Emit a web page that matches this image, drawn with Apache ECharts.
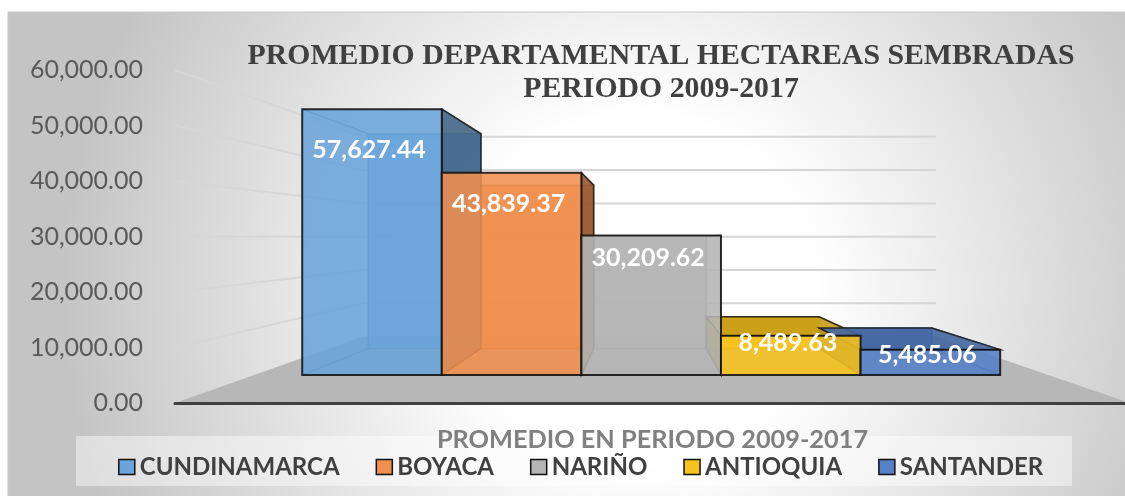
<!DOCTYPE html>
<html>
<head>
<meta charset="utf-8">
<script src="https://cdn.jsdelivr.net/npm/echarts@6/dist/echarts.min.js"></script>
<style>
  html, body { margin: 0; padding: 0; background: #fff; }
  #chart { width: 1125px; height: 496px; }
</style>
</head>
<body>
<div id="chart"></div>
<script>
// datos
const categories = ['PROMEDIO EN PERIODO 2009-2017'];
const departments = ['CUNDINAMARCA', 'BOYACA', 'NARIÑO', 'ANTIOQUIA', 'SANTANDER'];
const values = [57627.44, 43839.37, 30209.62, 8489.63, 5485.06];
const yTicks = [0, 10000, 20000, 30000, 40000, 50000, 60000];

const colors = ['#6aa4da', '#f08f4e', '#b5b5b5', '#f7c31c', '#5580c8'];

// vista 3D: punto de fuga y profundidad relativa al plano del eje
const VP = [645, 237];
const S_FRONT = 0.831, S_BACK = 0.671, S_WALL = 0.6;
const GAP = 0.0602, BAR = 0.1759;

const fmt = v => v.toLocaleString('en-US', { minimumFractionDigits: 2, maximumFractionDigits: 2 });
const proj = (x, y, s) => [VP[0] + (x - VP[0]) * s, VP[1] + (y - VP[1]) * s];

function shade (hex, f) {
  const n = parseInt(hex.slice(1), 16);
  const r = Math.round(((n >> 16) & 255) * f);
  const g = Math.round(((n >> 8) & 255) * f);
  const b = Math.round((n & 255) * f);
  return `rgb(${r},${g},${b})`;
}

// paredes y piso
function renderWall (params, api) {
  const v = api.value(1);
  const p = api.coord([0, v]);
  const bw = api.size([1, 0])[0];
  const xl = p[0] - bw / 2, xr = p[0] + bw / 2, y = p[1];
  if (v === 0) {
    return {
      type: 'polygon',
      shape: { points: [proj(xl, y, 1), proj(xr, y, 1), proj(xr, y, S_WALL), proj(xl, y, S_WALL)] },
      style: { fill: '#b7b7b7' }
    };
  }
  return {
    type: 'polyline',
    shape: { points: [proj(xl, y, 1), proj(xl, y, S_WALL), proj(xr, y, S_WALL)] },
    style: { stroke: '#d6d6d6', lineWidth: 2, fill: null }
  };
}

// barra 3D
function renderBar (k, api) {
  const v = api.value(1);
  const b0 = api.coord([0, 0]), t0 = api.coord([0, v]);
  const bw = api.size([1, 0])[0];
  const x0 = b0[0] - bw / 2 + bw * (GAP + k * BAR), x1 = x0 + bw * BAR;
  const yb = b0[1], yt = t0[1];
  const box = s => ({ bl: proj(x0, yb, s), br: proj(x1, yb, s), tr: proj(x1, yt, s), tl: proj(x0, yt, s) });
  const F = box(S_FRONT), B = box(S_BACK);
  const c = colors[k];
  const children = [];
  children.push({
    type: 'polygon', z2: 1,
    shape: { points: [B.bl, B.br, B.tr, B.tl] },
    style: { fill: c, stroke: shade(c, 0.7), lineWidth: 1.5, opacity: 0.85 }
  });
  ['bl', 'br', 'tr', 'tl'].forEach(key => {
    children.push({
      type: 'line', z2: 2,
      shape: { x1: F[key][0], y1: F[key][1], x2: B[key][0], y2: B[key][1] },
      style: { stroke: shade(c, 0.7), lineWidth: 1.5, opacity: 0.85 }
    });
  });
  const face = (pts, fill, z2) => ({
    type: 'polygon', z2,
    shape: { points: pts },
    style: { fill, stroke: '#1e1e1e', lineWidth: 1.5, opacity: 0.9 }
  });
  if (x1 < VP[0]) children.push(face([F.br, B.br, B.tr, F.tr], shade(c, 0.62), 3));
  if (x0 > VP[0]) children.push(face([F.bl, B.bl, B.tl, F.tl], shade(c, 0.62), 3));
  if (F.tl[1] > VP[1] + 1) children.push(face([F.tl, F.tr, B.tr, B.tl], shade(c, 0.8), 4));
  children.push({
    type: 'polygon', z2: 10,
    shape: { points: [F.bl, F.br, F.tr, F.tl] },
    style: { fill: c, stroke: '#111', lineWidth: 2, opacity: 0.88 }
  });
  const h = F.bl[1] - F.tl[1];
  children.push({
    type: 'text', z2: 20,
    x: (F.tl[0] + F.tr[0]) / 2 - 3,
    y: F.tl[1] + 0.15 * h + 1,
    style: {
      text: fmt(v), fill: '#fff', font: 'bold 25px Lato',
      align: 'center', verticalAlign: 'middle'
    }
  });
  return { type: 'group', children };
}

const chart = echarts.init(document.getElementById('chart'));

const option = {
  backgroundColor: '#fff',
  animation: false,
  graphic: [
    {
      type: 'rect', z: -10,
      shape: { x: 8, y: 12, width: 1118, height: 485 },
      style: {
        fill: new echarts.graphic.RadialGradient(640, 290, 580, [
          { offset: 0, color: '#ffffff' },
          { offset: 0.3, color: '#ffffff' },
          { offset: 1, color: '#c4c4c4' }
        ], true),
        stroke: '#c8c8c8', lineWidth: 1
      }
    },
    {
      type: 'rect', z: 1,
      shape: { x: 76, y: 436, width: 996, height: 50 },
      style: { fill: 'rgba(255,255,255,0.45)' }
    }
  ],
  title: {
    text: 'PROMEDIO DEPARTAMENTAL HECTAREAS SEMBRADAS\nPERIODO 2009-2017',
    left: 656, top: 35, textAlign: 'center',
    textStyle: {
      fontFamily: 'Liberation Serif', fontWeight: 'bold',
      fontSize: 29.8, lineHeight: 33, color: '#404040'
    }
  },
  legend: {
    data: departments, left: 113, top: 450, z: 6,
    icon: 'rect', itemWidth: 16, itemHeight: 15, itemGap: 36,
    selectedMode: false,
    itemStyle: { borderColor: '#111', borderWidth: 1.5 },
    textStyle: { fontFamily: 'Lato', fontWeight: 'bold', fontSize: 24, color: '#404040' }
  },
  grid: { left: 175, right: -5, top: 70, bottom: 93, outerBoundsMode: 'none' },
  xAxis: {
    type: 'category', data: categories, z: 5,
    axisTick: { show: false },
    axisLine: { lineStyle: { color: '#404040', width: 3 } },
    axisLabel: { margin: 24, color: '#808080', fontFamily: 'Lato', fontWeight: 'bold', fontSize: 25.3 },
    splitLine: { show: false }
  },
  yAxis: {
    type: 'value', min: 0, max: 60000, interval: 10000,
    axisLine: { show: false }, axisTick: { show: false }, splitLine: { show: false },
    axisLabel: { margin: 32, formatter: fmt, fontFamily: 'Lato', fontSize: 25, color: '#595959' }
  },
  series: [
    {
      type: 'custom', z: 1, silent: true,
      data: yTicks.map(v => [0, v]),
      renderItem: renderWall
    }
  ].concat(departments.map((name, k) => ({
    type: 'custom', name, z: 2,
    itemStyle: { color: colors[k] },
    data: [[0, values[k]]],
    renderItem: (params, api) => renderBar(k, api)
  })))
};

chart.setOption(option);
</script>
</body>
</html>
